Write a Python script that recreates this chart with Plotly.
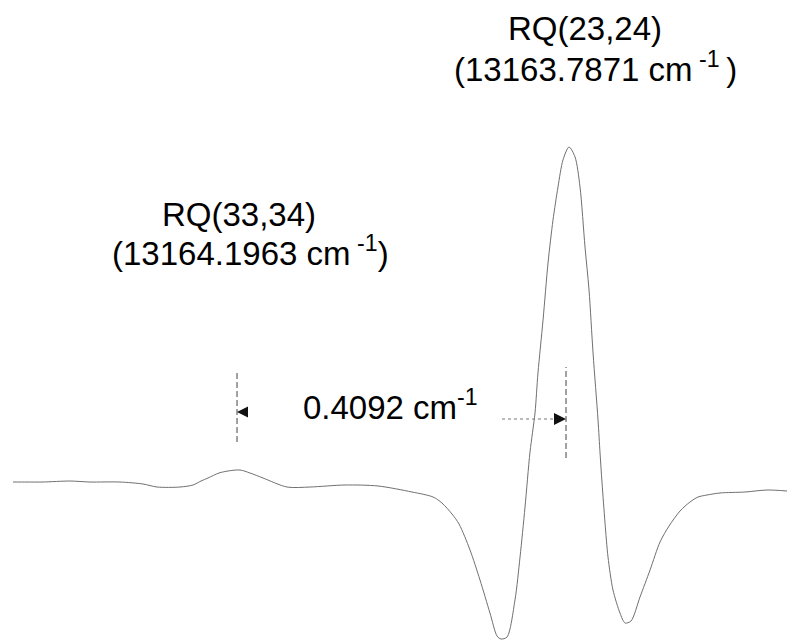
import plotly.graph_objects as go

# Spectrum trace: wavenumber (cm^-1) and signal (arb. units)
wavenumber = [
    13164.4749, 13164.4575, 13164.4376, 13164.4040, 13164.3792, 13164.3419,
    13164.3132, 13164.2958, 13164.2672, 13164.2511, 13164.2411, 13164.2324,
    13164.2187, 13164.2075, 13164.1926, 13164.1802, 13164.1640, 13164.1341,
    13164.1055, 13164.0620, 13164.0210, 13163.9787, 13163.9525, 13163.9414,
    13163.9289, 13163.9202, 13163.9065, 13163.8941, 13163.8817, 13163.8729,
    13163.8680, 13163.8605, 13163.8506, 13163.8443, 13163.8381, 13163.8319,
    13163.8257, 13163.8220, 13163.8157, 13163.8095, 13163.8033, 13163.7971,
    13163.7909, 13163.7834, 13163.7759, 13163.7697, 13163.7635, 13163.7585,
    13163.7535, 13163.7473, 13163.7448, 13163.7423, 13163.7386, 13163.7349,
    13163.7287, 13163.7200, 13163.7137, 13163.7063, 13163.6951, 13163.6826,
    13163.6702, 13163.6590, 13163.6453, 13163.6329, 13163.6229, 13163.6118,
    13163.5956, 13163.5645, 13163.5371, 13163.5122,
]
signal = [
    2.33, 2.33, 2.33, 2.62, 2.33, 2.33,
    1.75, 0.87, 0.87, 1.46, 2.62, 3.50,
    4.96, 5.54, 5.83, 4.96, 3.50, 0.87,
    0.87, 1.46, 1.17, -0.58, -2.04, -3.79,
    -7.00, -9.91, -17.49, -26.24, -35.86, -42.57,
    -43.44, -42.86, -32.07, -19.53, -4.96, 11.08,
    22.45, 34.11, 49.56, 66.18, 78.72, 88.34,
    96.21, 100.00, 97.08, 88.34, 70.85, 58.31,
    39.94, 20.41, 10.79, 2.04, -9.62, -19.53,
    -29.15, -35.86, -38.78, -38.19, -31.20, -23.32,
    -15.16, -10.50, -6.12, -3.50, -2.04, -1.46,
    -0.87, -0.58, 0.00, -0.29,
]

# Assigned transitions and their line positions (cm^-1)
line_names = ["RQ(33,34)", "RQ(23,24)"]
line_positions = [13164.1963, 13163.7871]

X_RANGE = [13164.4911, 13163.5073]   # decreasing wavenumber to the right
Y_RANGE = [-43.73, 142.86]

FONT = "Liberation Sans, Arial, sans-serif"
LABEL_SIZE = 33

fig = go.Figure()
fig.add_trace(go.Scatter(
    x=wavenumber, y=signal, mode="lines",
    line=dict(color="#707070", width=1, shape="spline", smoothing=0.8),
    hoverinfo="skip", showlegend=False,
))

left_pos, right_pos = line_positions
separation = left_pos - right_pos

# Dashed markers at the two line positions
marker_spans = [(13.99, 34.99), (9.33, 35.86)]
for pos, (y0, y1) in zip(line_positions, marker_spans):
    fig.add_shape(type="line", xref="x", yref="y",
                  x0=pos, x1=pos, y0=y0, y1=y1,
                  line=dict(color="#444444", width=1, dash="6px,3px"))

# Separation arrows
ARROW_Y_LEFT = 22.74
ARROW_Y_RIGHT = 20.70
fig.add_annotation(x=left_pos, y=ARROW_Y_LEFT, xref="x", yref="y",
                   ax=8, ay=0, text="", showarrow=True,
                   arrowhead=2, arrowsize=2.2, arrowwidth=1,
                   arrowcolor="#111111")
fig.add_shape(type="line", xref="x", yref="y",
              x0=13163.8667, x1=13163.7971, y0=ARROW_Y_RIGHT, y1=ARROW_Y_RIGHT,
              line=dict(color="#777777", width=1, dash="dot"))
fig.add_annotation(x=right_pos, y=ARROW_Y_RIGHT, xref="x", yref="y",
                   ax=-10, ay=0, text="", showarrow=True,
                   arrowhead=2, arrowsize=2.4, arrowwidth=1,
                   arrowcolor="#111111")

text_font = dict(family=FONT, size=LABEL_SIZE, color="#000000")
THIN = "\u2009"

def label(text, x, xshift, y_px):
    fig.add_annotation(x=x, xref="x", y=1 - y_px / 640, yref="paper",
                       xshift=xshift, text=text, showarrow=False,
                       xanchor="center", yanchor="middle", font=text_font)

# Transition labels
label(line_names[1], right_pos, 19, 29)
label(f"({right_pos:.4f} cm{THIN}<sup>-1</sup>{THIN})", right_pos, 29, 67)
label(line_names[0], left_pos, 2, 214)
label(f"({left_pos:.4f} cm{THIN}<sup>-1</sup>)", left_pos, 13, 251)

# Separation label
label(f"{separation:.4f} cm<sup>-1</sup>", (left_pos + right_pos) / 2, -11, 405)

fig.update_layout(
    width=791, height=640,
    margin=dict(l=0, r=0, t=0, b=0),
    paper_bgcolor="white", plot_bgcolor="white",
    xaxis=dict(range=X_RANGE, visible=False),
    yaxis=dict(range=Y_RANGE, visible=False),
    showlegend=False,
)

fig.write_html("out.html")
